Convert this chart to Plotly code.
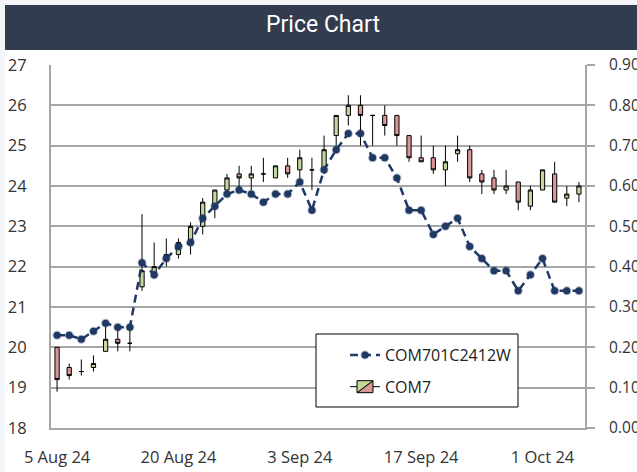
import plotly.graph_objects as go

dates = ["2024-08-05", "2024-08-06", "2024-08-07", "2024-08-08", "2024-08-09",
         "2024-08-13", "2024-08-14", "2024-08-15", "2024-08-16",
         "2024-08-19", "2024-08-20", "2024-08-21", "2024-08-22", "2024-08-23",
         "2024-08-26", "2024-08-27", "2024-08-28", "2024-08-29", "2024-08-30",
         "2024-09-02", "2024-09-03", "2024-09-04", "2024-09-05", "2024-09-06",
         "2024-09-09", "2024-09-10", "2024-09-11", "2024-09-12", "2024-09-13",
         "2024-09-16", "2024-09-17", "2024-09-18", "2024-09-19", "2024-09-20",
         "2024-09-23", "2024-09-24", "2024-09-25", "2024-09-26", "2024-09-27",
         "2024-09-30", "2024-10-01", "2024-10-02", "2024-10-03", "2024-10-04"]

com7_open = [20.0, 19.5, 19.4, 19.5, 19.9, 20.2, 20.1, 21.5, 21.8, 22.2, 22.3,
             22.6, 23.0, 23.5, 23.9, 24.3, 24.2, 24.3, 24.2, 24.5, 24.4, 24.4,
             24.4, 25.25, 25.75, 26.0, 25.75, 25.75, 25.75, 25.25, 24.7, 24.7,
             24.4, 24.8, 24.9, 24.3, 24.2, 23.9, 24.1, 23.5, 23.9, 24.3, 23.7, 23.8]
com7_high = [20.0, 19.6, 19.7, 19.8, 20.6, 20.5, 20.5, 23.3, 22.6, 22.7, 22.7,
             23.1, 23.7, 23.9, 24.3, 24.5, 24.5, 24.7, 24.5, 24.7, 24.9, 24.7,
             25.25, 25.75, 26.25, 26.25, 25.75, 26.0, 25.75, 25.25, 25.25, 25.0,
             25.0, 25.25, 25.0, 24.4, 24.4, 24.4, 24.1, 24.0, 24.4, 24.6, 24.0, 24.1]
com7_low = [18.9, 19.2, 19.3, 19.4, 19.9, 19.9, 19.9, 21.4, 21.7, 22.0, 22.2,
            22.3, 22.8, 23.2, 23.8, 23.9, 23.9, 24.1, 24.2, 24.2, 24.1, 23.9,
            24.3, 25.0, 25.5, 25.0, 25.0, 25.25, 25.0, 24.6, 24.6, 24.3,
            24.0, 24.6, 24.1, 23.8, 23.8, 23.8, 23.4, 23.4, 23.9, 23.6, 23.5, 23.6]
com7_close = [19.2, 19.3, 19.4, 19.6, 20.2, 20.1, 20.1, 21.9, 22.0, 22.3, 22.6,
              23.0, 23.6, 23.9, 24.2, 24.2, 24.3, 24.3, 24.5, 24.3, 24.7, 24.4,
              24.9, 25.75, 26.0, 25.75, 25.75, 25.5, 25.25, 24.7, 24.6, 24.4,
              24.6, 24.9, 24.2, 24.1, 23.9, 24.0, 23.6, 23.9, 24.4, 23.6, 23.8, 24.0]

warrant = [0.23, 0.23, 0.22, 0.24, 0.26, 0.25, 0.25, 0.41, 0.38, 0.42, 0.45,
           0.46, 0.52, 0.55, 0.58, 0.59, 0.58, 0.56, 0.58, 0.58, 0.61, 0.54,
           0.64, 0.69, 0.73, 0.73, 0.67, 0.67, 0.62, 0.54, 0.54, 0.48, 0.50,
           0.52, 0.45, 0.42, 0.39, 0.39, 0.34, 0.38, 0.42, 0.34, 0.34, 0.34]

tick_dates = ["2024-08-05", "2024-08-20", "2024-09-03", "2024-09-17", "2024-10-01"]
tick_text = ["5 Aug 24", "20 Aug 24", "3 Sep 24", "17 Sep 24", "1 Oct 24"]

FONT = "Open Sans"
GRID = "#a6a6a6"
TICKSIZE = 16.5

fig = go.Figure()

fig.add_trace(go.Scatter(
    x=dates, y=warrant, name="COM701C2412W", yaxis="y2",
    mode="lines+markers",
    line=dict(color="#1f3864", width=2.5, dash="8px,5px"),
    marker=dict(symbol="circle", size=7, color="#1f3864",
                line=dict(color="rgba(31,56,100,0.35)", width=2)),
    legendgroup="a", legendrank=1,
))

fig.add_trace(go.Candlestick(
    x=dates, open=com7_open, high=com7_high, low=com7_low, close=com7_close,
    name="COM7", yaxis="y",
    increasing=dict(fillcolor="#c4d79b", line=dict(color="#000000", width=1)),
    decreasing=dict(fillcolor="#d99694", line=dict(color="#000000", width=1)),
    whiskerwidth=0,
    legendgroup="b", legendrank=2,
))

L, R, T, B = 51, 52, 65, 44
W, H = 637, 472
pw, ph = W - L - R, H - T - B

def px(x):
    return (x - L) / pw

def py(y):
    return (H - B - y) / ph

shapes = [
    dict(type="rect", xref="paper", yref="paper", x0=px(5), x1=px(700),
         y0=py(520), y1=py(50), fillcolor="white", line=dict(width=0), layer="below"),
    dict(type="rect", xref="paper", yref="paper", x0=px(5), x1=px(700),
         y0=py(50), y1=py(5), fillcolor="#333c4e", line=dict(width=0), layer="below"),
    dict(type="rect", xref="paper", yref="paper", x0=px(316), x1=px(518),
         y0=py(407), y1=py(334), fillcolor="white",
         line=dict(color="#000000", width=1), layer="above"),
]

fig.update_layout(
    width=W, height=H,
    margin=dict(l=L, r=R, t=T, b=B, pad=0, autoexpand=False),
    paper_bgcolor="#f4f5f9", plot_bgcolor="white",
    font=dict(family=FONT, size=15, color="#333333"),
    title=dict(text="Price Chart", x=323 / W, xanchor="center",
               y=1 - 24 / H, yanchor="middle", automargin=False,
               font=dict(family="Roboto", size=23, color="white")),
    showlegend=True,
    legend=dict(x=px(345), y=py(338), xanchor="left", yanchor="top",
                bgcolor="rgba(0,0,0,0)", borderwidth=0,
                traceorder="grouped", tracegroupgap=8,
                font=dict(family=FONT, size=16, color="#222222")),
    boxgap=0.5,
    shapes=shapes,
    xaxis=dict(type="category", categoryorder="array", categoryarray=dates,
               range=[-0.5, len(dates) - 0.5], automargin=False,
               tickvals=tick_dates, ticktext=tick_text,
               showgrid=False, showline=True, linecolor=GRID, linewidth=2,
               ticks="", ticklabelstandoff=13, rangeslider=dict(visible=False),
               tickfont=dict(size=TICKSIZE)),
    yaxis=dict(range=[18, 27], dtick=1, tick0=18, showgrid=True, gridcolor=GRID,
               gridwidth=1.5, showline=True, linecolor=GRID, linewidth=2,
               ticks="", ticklabelstandoff=19, zeroline=False, automargin=False,
               tickfont=dict(size=TICKSIZE)),
    yaxis2=dict(range=[0, 0.9], dtick=0.1, tick0=0, overlaying="y", side="right",
                tickformat=".2f", showgrid=False, showline=True, linecolor=GRID,
                linewidth=2, ticks="outside", ticklen=8, tickcolor=GRID,
                tickwidth=1.5, ticklabelstandoff=11, zeroline=False, automargin=False,
                tickfont=dict(size=15.5)),
)

fig.write_html(
    "out.html",
    config={"displayModeBar": False},
    post_script="document.body.style.margin='0';document.body.style.overflow='hidden';",
)
